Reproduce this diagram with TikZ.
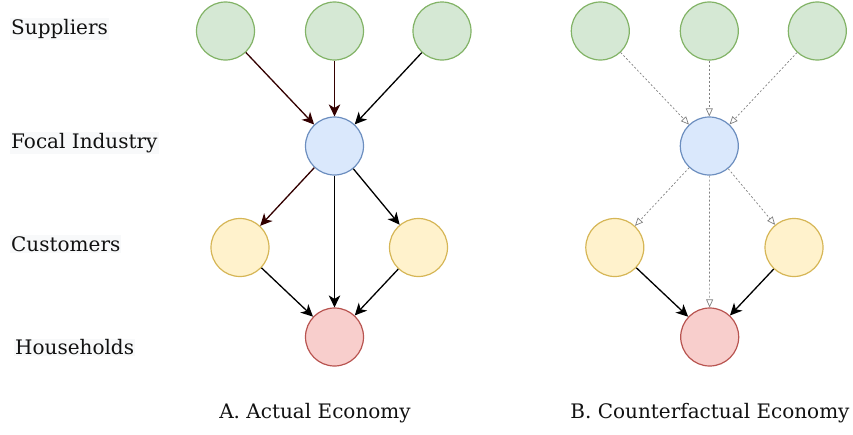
\documentclass[tikz,border=0pt]{standalone}
\usepackage{fontspec}
\setmainfont{DejaVu Serif}
\usetikzlibrary{arrows.meta}
\definecolor{gfill}{HTML}{D5E8D4}\definecolor{gdraw}{HTML}{82B366}
\definecolor{bfill}{HTML}{DAE8FC}\definecolor{bdraw}{HTML}{6C8EBF}
\definecolor{yfill}{HTML}{FFF2CC}\definecolor{ydraw}{HTML}{D6B656}
\definecolor{rfill}{HTML}{F8CECC}\definecolor{rdraw}{HTML}{B85450}
\definecolor{dbrown}{HTML}{330000}
\definecolor{lblbg}{HTML}{F8F9FA}
\definecolor{txt}{HTML}{111111}
\definecolor{dgray}{HTML}{808080}
\tikzset{
  circ/.style={circle, minimum size=58pt, inner sep=0pt, line width=1.2pt},
  supnode/.style={circ, fill=gfill, draw=gdraw},
  focnode/.style={circ, fill=bfill, draw=bdraw},
  cusnode/.style={circ, fill=yfill, draw=ydraw},
  hounode/.style={circ, fill=rfill, draw=rdraw},
  lbl/.style={anchor=west, text=txt, fill=lblbg, inner sep=1pt, font=\fontsize{20}{24}\selectfont},
  captxt/.style={text=txt, inner sep=1pt, font=\fontsize{20}{24}\selectfont},
  arr/.style={line width=1.3pt, -{Stealth[length=12pt, width=11.5pt, inset=3.5pt]}},
  arrb/.style={arr, draw=dbrown},
  arrk/.style={arr, draw=black},
  dsh/.style={line width=0.7pt, draw=dgray, dash pattern=on 2pt off 2pt, -{Triangle[open, length=8pt, width=7pt]}}
}
\begin{document}
\begin{tikzpicture}[x=1pt, y=-1pt]
\path[use as bounding box] (0,0) rectangle (853,434);
% labels
\node[lbl] (lsup) at (10,29) {Suppliers};
\node[lbl] (lfoc) at (10,143) {Focal Industry};
\node[lbl] (lcus) at (10,244) {Customers};
\node[lbl] (lhou) at (14,347.5) {Households};
% A
\node[supnode] (a1) at (225.5,31) {};
\node[supnode] (a2) at (334.5,31) {};
\node[supnode] (a3) at (442,31) {};
\node[focnode] (af) at (334.5,146) {};
\node[cusnode] (ac1) at (240,247.5) {};
\node[cusnode] (ac2) at (418.5,247.5) {};
\node[hounode] (ah) at (334.5,337) {};
\draw[arrb] (a1) -- (af);
\draw[arrb] (a2) -- (af);
\draw[arrk] (a3) -- (af);
\draw[arrb] (af) -- (ac1);
\draw[arrk] (af) -- (ah);
\draw[arrk] (af) -- (ac2);
\draw[arrk] (ac1) -- (ah);
\draw[arrk] (ac2) -- (ah);
% B
\node[supnode] (b1) at (600.3,31) {};
\node[supnode] (b2) at (709.3,31) {};
\node[supnode] (b3) at (817.3,31) {};
\node[focnode] (bf) at (709.3,146) {};
\node[cusnode] (bc1) at (614.8,247.5) {};
\node[cusnode] (bc2) at (794,247.5) {};
\node[hounode] (bh) at (709.7,337) {};
\draw[dsh] (b1) -- (bf);
\draw[dsh] (b2) -- (bf);
\draw[dsh] (b3) -- (bf);
\draw[dsh] (bf) -- (bc1);
\draw[dsh] (bf) -- (bh);
\draw[dsh] (bf) -- (bc2);
\draw[arrk] (bc1) -- (bh);
\draw[arrk] (bc2) -- (bh);
% captions
\node[captxt] (capa) at (315,413) {A. Actual Economy};
\node[captxt] (capb) at (710,413) {B. Counterfactual Economy};
\end{tikzpicture}
\end{document}
